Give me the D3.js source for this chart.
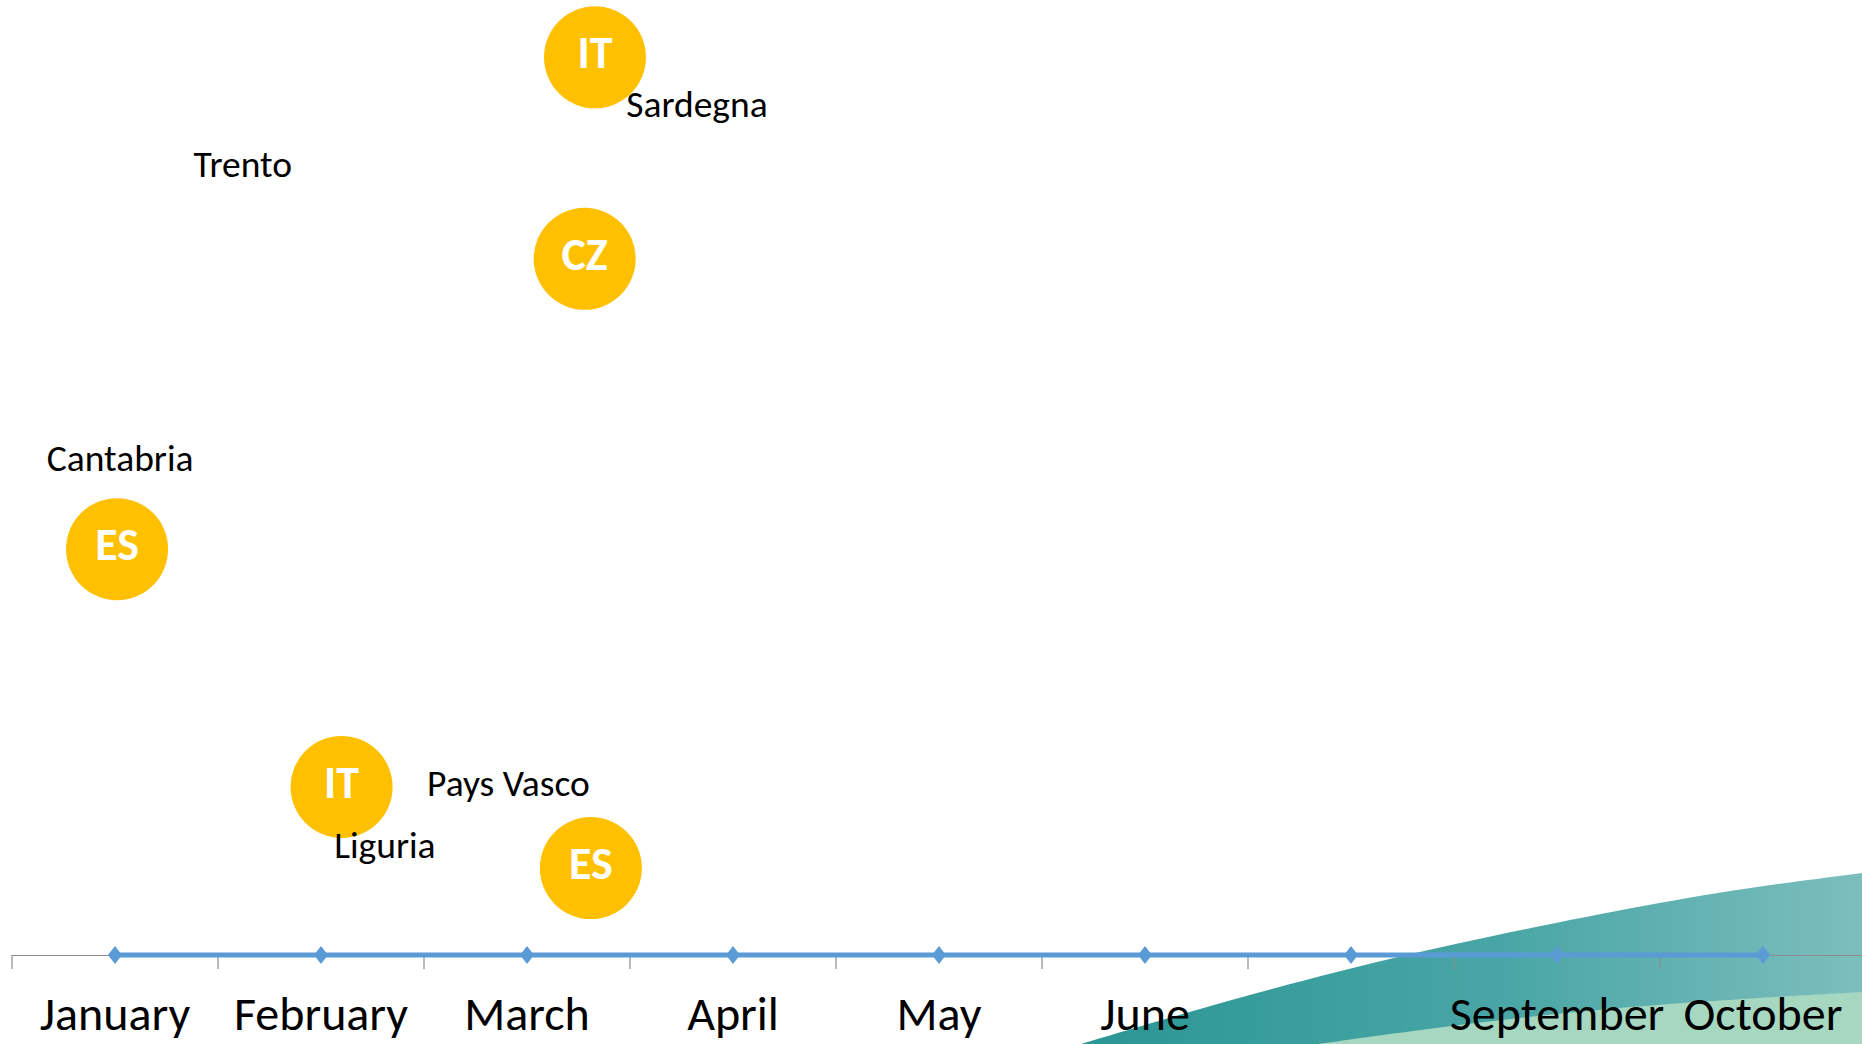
<!DOCTYPE html>
<html>
<head>
<meta charset="utf-8">
<script src="https://cdn.jsdelivr.net/npm/d3@7"></script>
<style>
  html, body { margin: 0; padding: 0; background: #ffffff; overflow: hidden; }
  svg { display: block; }
  text { font-family: Calibri, Carlito, Lato, "Open Sans", sans-serif; }
</style>
</head>
<body>
<svg id="chart" width="1862" height="1044"></svg>
<script>
// categories along the timeline (7th label is not shown on the slide)
const months = ["January", "February", "March", "April", "May", "June", "", "September", "October"];
// timeline series, one point per month, all on the baseline
const timelineValues = [0, 0, 0, 0, 0, 0, 0, 0, 0];

// bubbles: country code, position in months (0 = January), height
const bubbleCodes = ["IT", "CZ", "ES", "IT", "ES"];
const bubbleMonth = [2.33, 2.28, 0.01, 1.10, 2.31];
const bubbleValue = [94.0, 72.9, 42.5, 17.6, 9.1];

// region labels, position in months and height
const regionNames = ["Sardegna", "Trento", "Cantabria", "Pays Vasco", "Liguria"];
const regionMonth = [2.825, 0.62, 0.025, 1.91, 1.31];
const regionValue = [89.1, 82.8, 52.1, 18.0, 11.5];

const svg = d3.select("#chart");
const width = +svg.attr("width");
const height = +svg.attr("height");
const axisY = 955;

// --- decorative wave in bottom right corner ---
let defs = svg.append("defs");
let grad = defs.append("linearGradient")
    .attr("id", "waveGrad")
    .attr("x1", "0%").attr("x2", "100%").attr("y1", "0%").attr("y2", "0%");
grad.append("stop").attr("offset", "0%").attr("stop-color", "#2a9694");
grad.append("stop").attr("offset", "55%").attr("stop-color", "#4aa6a6");
grad.append("stop").attr("offset", "100%").attr("stop-color", "#7cbebd");

let line = d3.line().curve(d3.curveBasis);
let topEdge = [[1081, 1044], [1195, 1010], [1340, 970], [1490, 936], [1650, 904], [1760, 886], [1862, 873]];
svg.append("path")
    .attr("d", line(topEdge) + "L" + width + "," + height + "L1081," + height + "Z")
    .attr("fill", "url(#waveGrad)");
let lowEdge = [[1318, 1044], [1440, 1027], [1560, 1013], [1700, 1001], [1862, 992]];
svg.append("path")
    .attr("d", line(lowEdge) + "L" + width + "," + height + "L1318," + height + "Z")
    .attr("fill", "#a6d7c0");

// --- scales ---
const x = d3.scaleBand()
    .domain(d3.range(months.length))
    .range([12, 12 + 206 * months.length])
    .paddingInner(0).paddingOuter(0);
const xPos = d3.scaleLinear()
    .domain([-0.5, months.length - 0.5])
    .range(x.range());
const y = d3.scaleLinear()
    .domain([0, 100])
    .range([axisY, 0]);

// --- axis ---
let axis = d3.axisBottom(x)
    .tickSize(14)
    .tickFormat(function (i) { return months[i]; });
let gAxis = svg.append("g")
    .attr("transform", "translate(0," + axisY + ")")
    .call(axis);
gAxis.select(".domain").remove();
gAxis.append("line")
    .attr("x1", 12).attr("x2", width)
    .attr("y1", 0.5).attr("y2", 0.5)
    .attr("stroke", "#8c8c8c").attr("stroke-width", 1.2);
gAxis.selectAll(".tick line")
    .attr("transform", "translate(" + (-x.bandwidth() / 2) + ",0)")
    .attr("stroke", "#8c8c8c").attr("stroke-width", 1.2);
gAxis.selectAll(".tick text")
    .attr("y", 75)
    .attr("dy", 0)
    .attr("fill", "#000")
    .style("font-size", "48px")
    .style("font-family", "Calibri, Carlito, Lato, sans-serif");

// --- timeline line with diamond markers ---
let tl = d3.line()
    .x(function (d, i) { return xPos(i); })
    .y(function (d) { return y(d); });
svg.append("path")
    .datum(timelineValues)
    .attr("d", tl)
    .attr("fill", "none")
    .attr("stroke", "#5b9bd5")
    .attr("stroke-width", 5);
svg.selectAll(".diamond")
    .data(timelineValues)
    .enter()
    .append("path")
    .attr("class", "diamond")
    .attr("d", "M0,-9 L7,0 L0,9 L-7,0 Z")
    .attr("fill", "#5b9bd5")
    .attr("transform", function (d, i) {
        return "translate(" + xPos(i) + "," + y(d) + ")";
    });

// --- bubbles ---
let bubbles = svg.selectAll(".bubble")
    .data(bubbleCodes)
    .enter()
    .append("g")
    .attr("class", "bubble")
    .attr("transform", function (d, i) {
        return "translate(" + xPos(bubbleMonth[i]) + "," + y(bubbleValue[i]) + ")";
    });
bubbles.append("circle")
    .attr("r", 51)
    .attr("fill", "#ffc000");
bubbles.append("text")
    .attr("text-anchor", "middle")
    .attr("y", 11)
    .attr("fill", "#ffffff")
    .style("font-weight", "bold")
    .style("font-size", "46px")
    .text(function (d) { return d; });

// --- region labels ---
svg.selectAll(".region")
    .data(regionNames)
    .enter()
    .append("text")
    .attr("class", "region")
    .attr("text-anchor", "middle")
    .attr("x", function (d, i) { return xPos(regionMonth[i]); })
    .attr("y", function (d, i) { return y(regionValue[i]); })
    .attr("dy", "0.35em")
    .attr("fill", "#000")
    .style("font-size", "37.5px")
    .text(function (d) { return d; });
</script>
</body>
</html>
